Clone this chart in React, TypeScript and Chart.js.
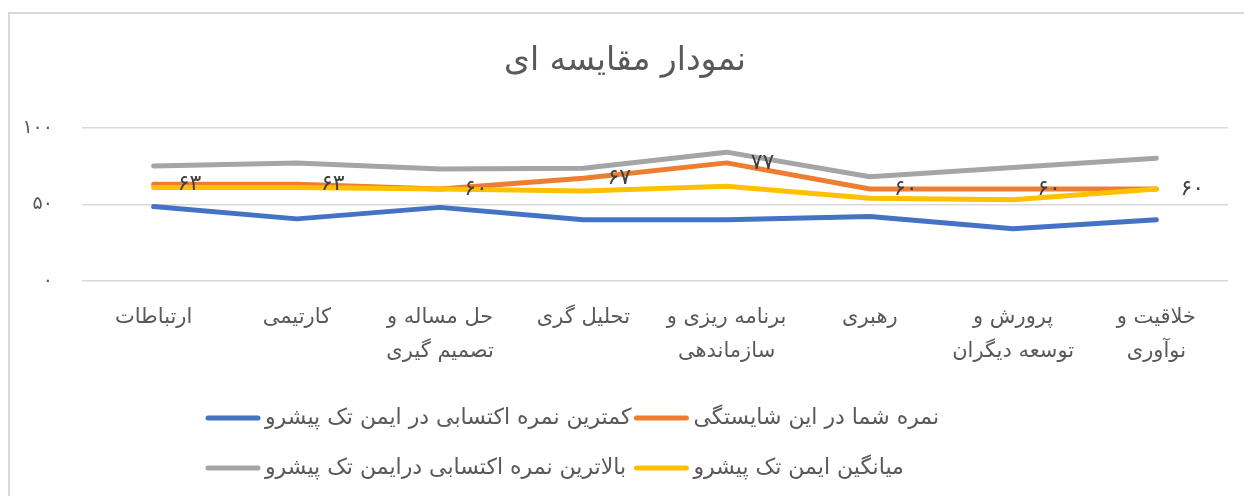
import React, { useEffect, useRef } from "react";
import { Chart, registerables } from "chart.js";

Chart.register(...registerables);

const titleText = "نمودار مقایسه ای";

const categories: string[][] = [
  ["ارتباطات"],
  ["کارتیمی"],
  ["حل مساله و", "تصمیم گیری"],
  ["تحلیل گری"],
  ["برنامه ریزی و", "سازماندهی"],
  ["رهبری"],
  ["پرورش و", "توسعه دیگران"],
  ["خلاقیت و", "نوآوری"],
];

const seriesNames = [
  "نمره شما در این شایستگی",
  "کمترین نمره اکتسابی در ایمن تک پیشرو",
  "میانگین ایمن تک پیشرو",
  "بالاترین نمره اکتسابی درایمن تک پیشرو",
];

const yourScore = [63, 63, 60, 67, 77, 60, 60, 60];
const minScore = [48.5, 40.5, 48, 40, 40, 42, 34, 40];
const avgScore = [61, 61, 60, 58.7, 61.8, 54, 53, 60];
const maxScore = [75, 77, 73, 73.5, 84, 68, 74, 80];

const yTicks = [0, 50, 100];

const seriesColors = ["#ED7D31", "#4472C4", "#FFC000", "#A5A5A5"];

const FONT = "'DejaVu Sans', sans-serif";
const TEXT_COLOR = "#595959";

const faDigits = ["۰", "۱", "۲", "۳", "۴", "۵", "۶", "۷", "۸", "۹"];
const toFa = (v: number | string) =>
  String(v).replace(/[0-9]/g, (d) => faDigits[Number(d)]);

// legend grid: rows left-to-right as dataset indices
const legendRows = [
  [1, 0],
  [3, 2],
];

const framePlugin = {
  id: "frame",
  beforeDraw(chart: any) {
    const { ctx, width, height } = chart;
    ctx.save();
    ctx.fillStyle = "#ffffff";
    ctx.fillRect(0, 0, width, height);
    ctx.strokeStyle = "#d9d9d9";
    ctx.lineWidth = 2;
    ctx.beginPath();
    ctx.moveTo(1, height);
    ctx.lineTo(1, 5);
    ctx.lineTo(width, 5);
    ctx.stroke();
    ctx.restore();
  },
};

const dataLabelPlugin = {
  id: "dataLabels",
  afterDatasetsDraw(chart: any) {
    const { ctx } = chart;
    const meta = chart.getDatasetMeta(0);
    const ds = chart.data.datasets[0];
    ctx.save();
    ctx.font = `22px ${FONT}`;
    ctx.fillStyle = "#404040";
    ctx.textAlign = "left";
    ctx.textBaseline = "middle";
    meta.data.forEach((pt: any, i: number) => {
      ctx.fillText(toFa(ds.data[i]), pt.x + 24, pt.y);
    });
    ctx.restore();
  },
};

const gridLegendPlugin = {
  id: "gridLegend",
  afterDraw(chart: any) {
    const { ctx } = chart;
    const datasets = chart.data.datasets;
    ctx.save();
    ctx.font = `22px ${FONT}`;
    ctx.textBaseline = "middle";
    ctx.textAlign = "left";
    const swatch = 56;
    const gap = 4;
    const startX = 197;
    const rowY = [410, 460];
    const colW: number[] = [];
    legendRows.forEach((row) =>
      row.forEach((idx, c) => {
        const w = swatch + gap + ctx.measureText(datasets[idx].label).width + 2;
        colW[c] = Math.max(colW[c] || 0, w);
      })
    );
    legendRows.forEach((row, r) => {
      let x = startX;
      row.forEach((idx, c) => {
        const y = rowY[r];
        ctx.strokeStyle = datasets[idx].borderColor;
        ctx.lineWidth = 5;
        ctx.lineCap = "round";
        ctx.beginPath();
        ctx.moveTo(x + 3, y);
        ctx.lineTo(x + swatch - 3, y);
        ctx.stroke();
        ctx.fillStyle = TEXT_COLOR;
        ctx.fillText(datasets[idx].label, x + swatch + gap, y);
        x += colW[c];
      });
    });
    ctx.restore();
  },
};

export default function App() {
  const canvasRef = useRef<HTMLCanvasElement | null>(null);

  useEffect(() => {
    const canvas = canvasRef.current;
    if (!canvas) return;
    const values = [yourScore, minScore, avgScore, maxScore];
    const chart = new Chart(canvas, {
      type: "line",
      data: {
        labels: categories,
        datasets: values.map((v, i) => ({
          label: seriesNames[i],
          data: v,
          borderColor: seriesColors[i],
          backgroundColor: seriesColors[i],
          borderWidth: 5,
          borderCapStyle: "round",
          borderJoinStyle: "round",
          pointRadius: 0,
          pointHoverRadius: 0,
          tension: 0,
          fill: false,
          order: 4 - i,
        })),
      },
      options: {
        animation: false,
        responsive: false,
        devicePixelRatio: 1,
        layout: { padding: { left: 14, right: 24, top: 0, bottom: 107 } },
        plugins: {
          legend: { display: false },
          tooltip: { enabled: false },
          title: {
            display: true,
            text: titleText,
            color: TEXT_COLOR,
            font: { family: FONT, size: 33, weight: "normal" },
            padding: { top: 34, bottom: 46 },
          },
        },
        scales: {
          x: {
            type: "category",
            offset: true,
            grid: { display: false, drawTicks: false },
            border: { display: false },
            ticks: {
              color: TEXT_COLOR,
              font: { family: FONT, size: 21, lineHeight: "34px" },
              padding: 20,
              maxRotation: 0,
              minRotation: 0,
              autoSkip: false,
            },
          },
          y: {
            min: yTicks[0],
            max: yTicks[yTicks.length - 1],
            afterFit: (s: any) => {
              s.width = 60;
            },
            afterBuildTicks: (s: any) => {
              s.ticks = yTicks.map((v) => ({ value: v }));
            },
            grid: { color: "#d9d9d9", lineWidth: 1.5, drawTicks: false },
            border: { display: false },
            ticks: {
              color: TEXT_COLOR,
              font: { family: FONT, size: 19 },
              padding: 29,
              callback: (v: any) => toFa(v),
            },
          },
        },
      },
      plugins: [framePlugin, dataLabelPlugin, gridLegendPlugin],
    } as any);
    return () => chart.destroy();
  }, []);

  return (
    <div style={{ width: 1244, height: 488 }}>
      <canvas
        ref={canvasRef}
        width={1244}
        height={488}
        style={{ display: "block", width: 1244, height: 488 }}
      />
    </div>
  );
}
